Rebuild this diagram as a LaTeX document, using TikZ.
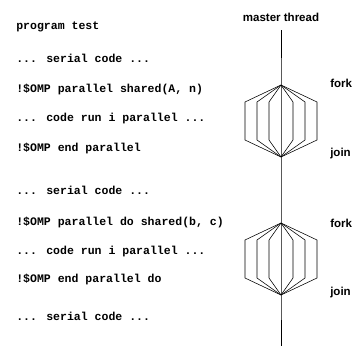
\documentclass[tikz,border=0pt]{standalone}
\usepackage{fontspec}
\setsansfont{Liberation Sans}
\newfontfamily\codefont{Liberation Mono}
\usetikzlibrary{positioning}

\begin{document}
\begin{tikzpicture}[code/.style={anchor=west, inner sep=0pt, font=\codefont\bfseries\fontsize{8.2}{10}\selectfont},
	lbl/.style={inner sep=0pt, font=\sffamily\bfseries\fontsize{8.2}{10}\selectfont}]
	\useasboundingbox (0,0) rectangle (8.825,8.65);
	% program text
	\node[code] (prog) at (.4,7.975) {program test};
	\node[code] (ser1) at (.4,7.2) {... serial code ...};
	\node[code] (par1) at (.4,6.425) {!\$OMP parallel shared(A, n)};
	\node[code] (run1) at (.4,5.675) {... code run i parallel ...};
	\node[code] (end1) at (.4,4.95) {!\$OMP end parallel};
	\node[code] (ser2) at (.4,3.9) {... serial code ...};
	\node[code] (par2) at (.4,3.1) {!\$OMP parallel do shared(b, c)};
	\node[code] (run2) at (.4,2.35) {... code run i parallel ...};
	\node[code] (end2) at (.4,1.675) {!\$OMP end parallel do};
	\node[code] (ser3) at (.4,.75) {... serial code ...};
	% threads
	\node[lbl] (master) at (7.025,8.225) {master thread};
	\coordinate (top) at (7.025,7.9);
	\coordinate (fork1) at (7.025,6.525);
	\coordinate (join1) at (7.025,4.725);
	\coordinate (fork2) at (7.025,3.075);
	\coordinate (join2) at (7.025,1.275);
	\coordinate (bottom) at (7.025,0);
	\draw (top) -- (fork1) -- (join1) -- (fork2) -- (join2) -- (bottom);
	\foreach \d in {-.9,-.6,-.3,.3,.6,.9} {
		\draw (fork1) -- ++(\d,-.425) -- ++(0,-.95) -- (join1);
		\draw (fork2) -- ++(\d,-.425) -- ++(0,-.95) -- (join2);
	}
	\node[lbl, anchor=west] (forklbl1) at (8.25,6.575) {fork};
	\node[lbl, anchor=west] (joinlbl1) at (8.25,4.8) {join};
	\node[lbl, anchor=west] (forklbl2) at (8.25,3.075) {fork};
	\node[lbl, anchor=west] (joinlbl2) at (8.25,1.325) {join};
\end{tikzpicture}
\end{document}
